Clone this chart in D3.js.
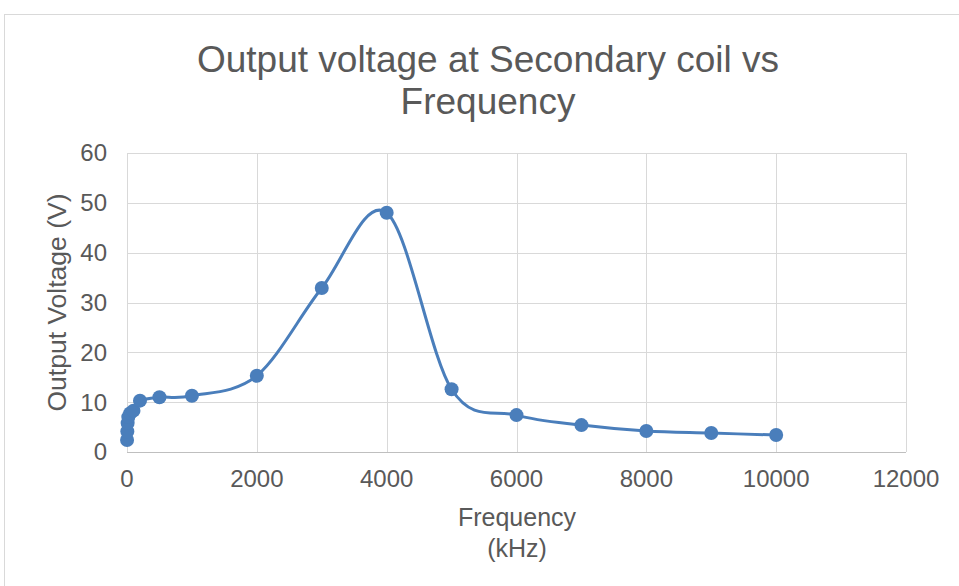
<!DOCTYPE html>
<html>
<head>
<meta charset="utf-8">
<script src="https://cdn.jsdelivr.net/npm/d3@7"></script>
<style>
  body { margin: 0; background: #fff; }
  text { font-family: "Liberation Sans", Arial, sans-serif; fill: #595959; }
</style>
</head>
<body>
<svg id="chart" width="959" height="586"></svg>
<script>
// frequency in kHz, voltage in V
const freq = [1, 5, 10, 20, 50, 100, 200, 500, 1000, 2000, 3000, 4000, 5000, 6000, 7000, 8000, 9000, 10000];
const volts = [2.4, 4.1, 5.8, 7.0, 7.8, 8.3, 10.3, 11.0, 11.3, 15.3, 32.9, 48.0, 12.6, 7.4, 5.4, 4.2, 3.8, 3.4];
const xTicks = [0, 2000, 4000, 6000, 8000, 10000, 12000];
const yTicks = [0, 10, 20, 30, 40, 50, 60];

const svg = d3.select("#chart");
const margin = { left: 127, right: 53, top: 153, bottom: 134 };
const W = 959, H = 586;

// outer chart border
svg.append("rect")
  .attr("x", 4.5).attr("y", 14.5)
  .attr("width", 1000).attr("height", 1000)
  .attr("fill", "none").attr("stroke", "#d9d9d9");

const x = d3.scaleLinear().domain([0, 12000]).range([margin.left, W - margin.right]);
const y = d3.scaleLinear().domain([0, 60]).range([H - margin.bottom, margin.top]);

// gridlines
svg.append("g").selectAll("line").data(yTicks.filter(d => d > 0)).join("line")
  .attr("x1", x(0)).attr("x2", x(12000))
  .attr("y1", d => Math.round(y(d)) + 0.5).attr("y2", d => Math.round(y(d)) + 0.5)
  .attr("stroke", "#d9d9d9");
svg.append("g").selectAll("line").data(xTicks).join("line")
  .attr("x1", d => Math.round(x(d)) + 0.5).attr("x2", d => Math.round(x(d)) + 0.5)
  .attr("y1", y(0)).attr("y2", y(60))
  .attr("stroke", "#d9d9d9");

// bottom axis line
svg.append("line")
  .attr("x1", x(0)).attr("x2", x(12000))
  .attr("y1", Math.round(y(0)) + 0.5).attr("y2", Math.round(y(0)) + 0.5)
  .attr("stroke", "#bfbfbf");

// tick labels
svg.append("g").selectAll("text").data(yTicks).join("text")
  .attr("x", 107).attr("y", d => y(d)).attr("dy", "0.35em")
  .attr("text-anchor", "end").attr("font-size", 24)
  .text(d => d);
svg.append("g").selectAll("text").data(xTicks).join("text")
  .attr("x", d => x(d)).attr("y", 487)
  .attr("text-anchor", "middle").attr("font-size", 24)
  .text(d => d);

// titles
svg.append("text").attr("x", 488).attr("y", 72).attr("text-anchor", "middle")
  .attr("font-size", 37).text("Output voltage at Secondary coil vs");
svg.append("text").attr("x", 488).attr("y", 114).attr("text-anchor", "middle")
  .attr("font-size", 37).text("Frequency");
svg.append("text").attr("x", 517).attr("y", 526).attr("text-anchor", "middle")
  .attr("font-size", 25).text("Frequency");
svg.append("text").attr("x", 517).attr("y", 557).attr("text-anchor", "middle")
  .attr("font-size", 25).text("(kHz)");
svg.append("text")
  .attr("transform", "translate(66," + y(30) + ") rotate(-90)")
  .attr("text-anchor", "middle").attr("font-size", 26.5)
  .text("Output Voltage (V)");

// series
const pts = freq.map((f, i) => [f, volts[i]]);
const line = d3.line()
  .x(d => x(d[0])).y(d => y(d[1]))
  .curve(d3.curveCardinal.tension(0));
svg.append("path").datum(pts)
  .attr("d", line)
  .attr("fill", "none").attr("stroke", "#4a7ebb").attr("stroke-width", 3);
svg.append("g").selectAll("circle").data(pts).join("circle")
  .attr("cx", d => x(d[0])).attr("cy", d => y(d[1]))
  .attr("r", 7).attr("fill", "#4a7ebb");
</script>
</body>
</html>
